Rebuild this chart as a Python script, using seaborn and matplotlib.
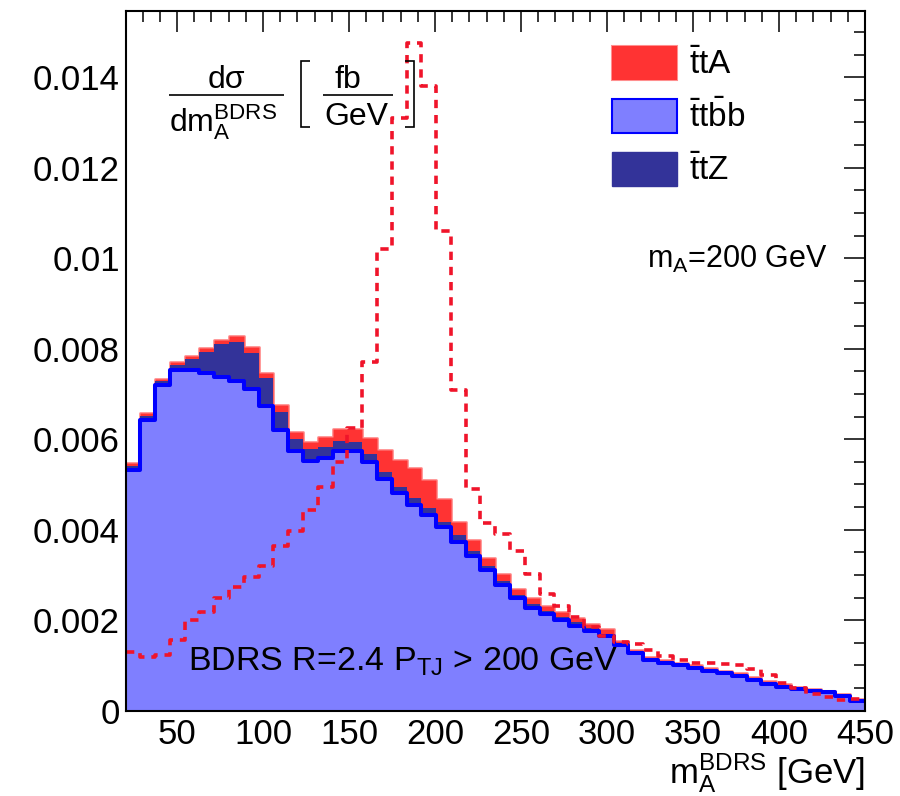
import numpy as np
import pandas as pd
import matplotlib
matplotlib.use("Agg")
import matplotlib.pyplot as plt
from matplotlib.lines import Line2D
from matplotlib.patches import Patch
from matplotlib.ticker import MultipleLocator
import seaborn as sns

# Binning of the reconstructed mass: 50 equal bins between 20 and 450 GeV
n_bins = 50
m_low, m_high = 20.0, 450.0

# Stacked backgrounds / signal per bin  [fb/GeV]
ttbb = [0.00532, 0.00642, 0.00719, 0.00753, 0.00754, 0.00747, 0.00738, 0.00729, 0.00710, 0.00673,
        0.00620, 0.00573, 0.00551, 0.00558, 0.00575, 0.00575, 0.00550, 0.00512, 0.00482, 0.00455,
        0.00432, 0.00407, 0.00373, 0.00342, 0.00311, 0.00278, 0.00248, 0.00228, 0.00213, 0.00200,
        0.00188, 0.00176, 0.00165, 0.00145, 0.00127, 0.00111, 0.00105, 0.00100, 0.00094, 0.00088,
        0.00083, 0.00077, 0.00068, 0.00058, 0.00052, 0.00047, 0.00044, 0.00041, 0.00032, 0.00022]
ttz = [0.00009, 0.00010, 0.00010, 0.00011, 0.00023, 0.00046, 0.00072, 0.00086, 0.00081, 0.00062,
       0.00041, 0.00028, 0.00028, 0.00025, 0.00022, 0.00018, 0.00017, 0.00016, 0.00013, 0.00014,
       0.00015, 0.00011, 0.00015, 0.00011, 0.00009, 0.00009, 0.00008, 0.00008, 0.00008, 0.00008,
       0.00007, 0.00006, 0.00005, 0.00005, 0.00003, 0.00003, 0.00003, 0.00002, 0.00003, 0.00003,
       0.00002, 0.00003, 0.00003, 0.00004, 0.00003, 0.00002, 0.00002, 0.00001, 0.00002, 0.00001]
tta = [0.00007, 0.00005, 0.00004, 0.00007, 0.00007, 0.00008, 0.00009, 0.00012, 0.00013, 0.00011,
       0.00015, 0.00016, 0.00015, 0.00021, 0.00025, 0.00029, 0.00035, 0.00048, 0.00059, 0.00067,
       0.00063, 0.00049, 0.00030, 0.00025, 0.00018, 0.00015, 0.00014, 0.00012, 0.00011, 0.00010,
       0.00010, 0.00010, 0.00010, 0.00005, 0.00004, 0.00005, 0.00004, 0.00004, 0.00004, 0.00004,
       0.00003, 0.00004, 0.00004, 0.00004, 0.00004, 0.00003, 0.00003, 0.00002, 0.00003, 0.00002]

# ttA signal shape, scaled up (dashed)
tta_scaled = [0.00130, 0.00119, 0.00123, 0.00156, 0.00200, 0.00218, 0.00250, 0.00273, 0.00295, 0.00320,
              0.00365, 0.00397, 0.00444, 0.00495, 0.00549, 0.00624, 0.00770, 0.01020, 0.01309, 0.01475,
              0.01380, 0.01061, 0.00709, 0.00489, 0.00414, 0.00390, 0.00353, 0.00302, 0.00258, 0.00232,
              0.00208, 0.00185, 0.00165, 0.00152, 0.00148, 0.00135, 0.00120, 0.00112, 0.00106, 0.00105,
              0.00104, 0.00100, 0.00092, 0.00080, 0.00062, 0.00050, 0.00036, 0.00030, 0.00024, 0.00026]

x_ticks = [50, 100, 150, 200, 250, 300, 350, 400, 450]
x_tick_labels = ["50", "100", "150", "200", "250", "300", "350", "400", "450"]
y_ticks = [0, 0.002, 0.004, 0.006, 0.008, 0.010, 0.012, 0.014]
y_tick_labels = ["0", "0.002", "0.004", "0.006", "0.008", "0.01", "0.012", "0.014"]
legend_labels = [r"$\bar{\mathrm{t}}\mathrm{tA}$",
                 r"$\bar{\mathrm{t}}\mathrm{t}\bar{\mathrm{b}}\mathrm{b}$",
                 r"$\bar{\mathrm{t}}\mathrm{tZ}$"]

RED = "#ff3333"
RED_EDGE = (1.0, 0.2, 0.2, 0.55)
NAVY = "#333399"
LIGHT = "#7f7fff"
BLUE = "#0000ff"
DASH = "#f0142a"

edges = np.linspace(m_low, m_high, n_bins + 1)
centers = 0.5 * (edges[:-1] + edges[1:])
df = pd.DataFrame({"mass": centers, "ttbb": ttbb, "ttz": ttz, "tta": tta, "signal": tta_scaled})
df["stack_ttz"] = df["ttbb"] + df["ttz"]
df["stack_tta"] = df["stack_ttz"] + df["tta"]

sns.set_theme(style="white")
plt.rcParams.update({
    "font.family": ["Liberation Sans", "DejaVu Sans"],
    "mathtext.fontset": "custom",
    "mathtext.rm": "Liberation Sans",
    "mathtext.it": "Liberation Sans",
    "mathtext.sf": "Liberation Sans",
    "mathtext.bf": "Liberation Sans:bold",
    "text.color": "black",
    "axes.edgecolor": "black",
    "xtick.color": "black",
    "ytick.color": "black",
})

W, H = 900, 796
fig = plt.figure(figsize=(W / 100, H / 100), dpi=100)
ax = fig.add_axes([125.5 / W, 1 - 710.7 / H, (865 - 125.5) / W, 700 / H])

common = dict(data=df, x="mass", bins=n_bins, binrange=(m_low, m_high),
              element="step", ax=ax, alpha=1)
sns.histplot(weights="stack_tta", fill=True, color=RED, edgecolor=RED_EDGE, linewidth=2.0, **common)
sns.histplot(weights="stack_ttz", fill=True, color=NAVY, linewidth=0, **common)
sns.histplot(weights="ttbb", fill=True, color=LIGHT, linewidth=0, **common)
sns.histplot(weights="ttbb", fill=False, color=BLUE, linewidth=2.9, **common)
sns.histplot(weights="signal", fill=False, color=DASH, linewidth=2.6,
             linestyle=(0, (2.3, 1.9)), **common)

ax.set_xlim(m_low, m_high)
ax.set_ylim(0, 700 / 45250)
ax.set_xlabel("")
ax.set_ylabel("")
ax.set_xticks(x_ticks, labels=x_tick_labels)
ax.set_yticks(y_ticks, labels=y_tick_labels)
ax.xaxis.set_minor_locator(MultipleLocator(10))
ax.yaxis.set_minor_locator(MultipleLocator(0.0005))
ax.tick_params(which="both", direction="in", top=True, right=True, width=1.1)
ax.tick_params(which="major", length=15, labelsize=25)
ax.tick_params(which="minor", length=8)
ax.tick_params(axis="x", pad=5)
ax.tick_params(axis="y", pad=4)
for s in ax.spines.values():
    s.set_linewidth(1.5)
    s.set_zorder(10)

handles = [Patch(facecolor=RED, edgecolor=RED_EDGE, linewidth=1.5),
           Patch(facecolor=LIGHT, edgecolor=BLUE, linewidth=1.5),
           Patch(facecolor=NAVY, edgecolor=NAVY, linewidth=1.0)]
fig.legend(handles, legend_labels, loc="upper left", bbox_to_anchor=(612 / W, 1 - 46 / H),
           frameon=False, fontsize=24, handlelength=1.95, handleheight=1.2,
           labelspacing=0.53, handletextpad=0.35, borderpad=0, borderaxespad=0)


def fx(px):
    return px / W


def fy(py):
    return 1 - py / H


def fig_line(xs, ys, lw=1.2):
    fig.add_artist(Line2D([fx(v) for v in xs], [fy(v) for v in ys],
                          transform=fig.transFigure, color="black", lw=lw,
                          solid_capstyle="butt", solid_joinstyle="miter"))


# d(sigma)/dm  [fb/GeV]  written as two stacked fractions inside brackets
fig.text(fx(226), fy(87.5), "dσ", fontsize=23, ha="center", va="baseline")
fig_line([169, 284], [95, 95])
fig.text(fx(169), fy(131.5), r"$\mathrm{dm}_\mathrm{A}^\mathrm{BDRS}$", fontsize=23,
         ha="left", va="baseline")
fig_line([310, 301, 301, 310], [61, 61, 127, 127])
fig.text(fx(348), fy(87.5), "fb", fontsize=23, ha="center", va="baseline")
fig_line([323, 393], [95, 95])
fig.text(fx(356), fy(125), "GeV", fontsize=23, ha="center", va="baseline")
fig_line([405, 414, 414, 405], [61, 61, 127, 127])

fig.text(fx(828), fy(268), r"$\mathrm{m}_\mathrm{A}$=200 GeV", fontsize=22, ha="right", va="baseline")
fig.text(fx(188), fy(671), r"BDRS R=2.4 $\mathrm{P}_\mathrm{TJ}$ > 200 GeV", fontsize=24.5,
         ha="left", va="baseline")
fig.text(fx(865), fy(783), r"$\mathrm{m}_\mathrm{A}^\mathrm{BDRS}$ [GeV]", fontsize=25,
         ha="right", va="baseline")

fig.savefig("out.png", dpi=100)
